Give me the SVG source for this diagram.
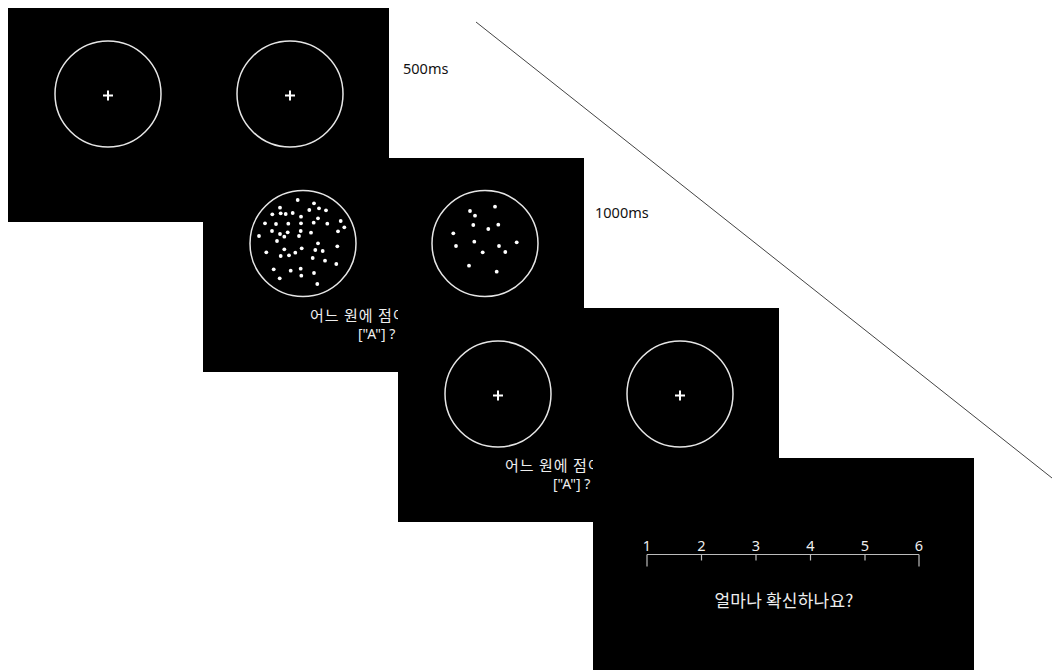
<svg xmlns="http://www.w3.org/2000/svg" width="1053" height="670" viewBox="0 0 1053 670">
<style>
.bg{fill:#000}
.ring{fill:none;stroke:#e6e6e6;stroke-width:1.5}
.cross{stroke:#fff;stroke-width:2;fill:none}
.dot{fill:#fff}
.kr{font-family:"Noto Sans CJK KR","Noto Sans",sans-serif;font-size:15px;letter-spacing:1px;fill:#eee}
.q{font-family:"Noto Sans","Noto Sans CJK KR",sans-serif;font-size:14px;fill:#eee}
.lbl{font-family:"Noto Sans","Noto Sans CJK KR",sans-serif;font-size:14.5px;fill:#111}
.num{font-family:"Noto Sans","Noto Sans CJK KR",sans-serif;font-size:14.5px;fill:#eee;text-anchor:middle}
.scale{stroke:#bbb;stroke-width:1.2;fill:none}
</style>
<rect width="1053" height="670" fill="#fff"/>
<g id="connectors">
<line x1="476" y1="22" x2="1052" y2="478" stroke="#444" stroke-width="1"/>
</g>
<g id="panel1">
<rect class="bg" x="8" y="8" width="381" height="214"/>
<circle class="ring" cx="108" cy="94" r="53"/>
<circle class="ring" cx="290" cy="94" r="53"/>
<path class="cross" d="M103 95.5h10M108 90.5v10M285 95.5h10M290 90.5v10"/>
</g>
<g id="label500">
<text class="lbl" x="403" y="74">500ms</text>
</g>
<g id="panel2">
<rect class="bg" x="203" y="158" width="381" height="214"/>
<circle class="ring" cx="303" cy="243.5" r="53"/>
<circle class="ring" cx="485" cy="243.5" r="53"/>
<g class="dot">
<circle cx="297.7" cy="200" r="1.9"/><circle cx="314" cy="203.3" r="1.9"/><circle cx="280" cy="207.7" r="1.9"/><circle cx="309.3" cy="210" r="1.9"/><circle cx="319" cy="208.3" r="1.9"/><circle cx="326" cy="210.3" r="1.9"/><circle cx="272.3" cy="214.3" r="1.9"/><circle cx="280.7" cy="213.3" r="1.9"/><circle cx="285.7" cy="214" r="1.9"/><circle cx="292.7" cy="213" r="1.9"/><circle cx="301" cy="216.7" r="1.9"/><circle cx="318" cy="218.3" r="1.9"/><circle cx="265" cy="223.3" r="1.9"/><circle cx="276" cy="224" r="1.9"/><circle cx="288.3" cy="223.7" r="1.9"/><circle cx="301" cy="223.3" r="1.9"/><circle cx="313.7" cy="222.7" r="1.9"/><circle cx="327.3" cy="223.7" r="1.9"/><circle cx="340.7" cy="221" r="1.9"/><circle cx="344.3" cy="227.3" r="1.9"/><circle cx="272" cy="231" r="1.9"/><circle cx="280" cy="234" r="1.9"/><circle cx="287.7" cy="232.3" r="1.9"/><circle cx="300.7" cy="231" r="1.9"/><circle cx="311" cy="232.7" r="1.9"/><circle cx="338" cy="231.3" r="1.9"/><circle cx="259" cy="236" r="1.9"/><circle cx="284.3" cy="236.7" r="1.9"/><circle cx="299" cy="236" r="1.9"/><circle cx="277" cy="241" r="1.9"/><circle cx="318" cy="243.3" r="1.9"/><circle cx="301.7" cy="248.3" r="1.9"/><circle cx="284.3" cy="249.3" r="1.9"/><circle cx="315.3" cy="250" r="1.9"/><circle cx="322.7" cy="251" r="1.9"/><circle cx="337.3" cy="246.3" r="1.9"/><circle cx="266.3" cy="252.3" r="1.9"/><circle cx="280.7" cy="256" r="1.9"/><circle cx="289" cy="255.3" r="1.9"/><circle cx="295.3" cy="252.7" r="1.9"/><circle cx="312.7" cy="258" r="1.9"/><circle cx="325" cy="260.7" r="1.9"/><circle cx="336.3" cy="264" r="1.9"/><circle cx="273.7" cy="269.3" r="1.9"/><circle cx="290.7" cy="270.7" r="1.9"/><circle cx="300.7" cy="268.7" r="1.9"/><circle cx="314" cy="273" r="1.9"/><circle cx="301.3" cy="275.7" r="1.9"/><circle cx="279.7" cy="278.3" r="1.9"/><circle cx="317.3" cy="284" r="1.9"/>
<circle cx="470" cy="211" r="1.9"/><circle cx="495" cy="206.7" r="1.9"/><circle cx="475" cy="215.7" r="1.9"/><circle cx="473.3" cy="225" r="1.9"/><circle cx="498.3" cy="224.7" r="1.9"/><circle cx="488.3" cy="229" r="1.9"/><circle cx="453.3" cy="233.3" r="1.9"/><circle cx="474.3" cy="241.7" r="1.9"/><circle cx="516.7" cy="242.3" r="1.9"/><circle cx="456" cy="246" r="1.9"/><circle cx="499" cy="246" r="1.9"/><circle cx="482.7" cy="252.3" r="1.9"/><circle cx="505.3" cy="252" r="1.9"/><circle cx="469" cy="265.7" r="1.9"/><circle cx="496.7" cy="271.7" r="1.9"/>
</g>
<text class="kr" x="310" y="321">어느 원에 점이</text>
<text class="q" x="358" y="339">["A"] ?</text>
</g>
<g id="label1000">
<text class="lbl" x="595" y="218">1000ms</text>
</g>
<g id="panel3">
<rect class="bg" x="398" y="308" width="381" height="214"/>
<circle class="ring" cx="498" cy="394" r="53"/>
<circle class="ring" cx="680" cy="394" r="53"/>
<path class="cross" d="M493 395.5h10M498 390.5v10M675 395.5h10M680 390.5v10"/>
<text class="kr" x="505" y="471">어느 원에 점이</text>
<text class="q" x="553" y="489">["A"] ?</text>
</g>
<g id="panel4">
<rect class="bg" x="593" y="458" width="381" height="212"/>
<path class="scale" d="M647 554.5h272M647 554.5v12M919 554.5v12M701.5 554.5v6M756 554.5v6M810.5 554.5v6M865 554.5v6"/>
<text class="num" x="647" y="551">1</text>
<text class="num" x="701.5" y="551">2</text>
<text class="num" x="756" y="551">3</text>
<text class="num" x="810.5" y="551">4</text>
<text class="num" x="865" y="551">5</text>
<text class="num" x="919" y="551">6</text>
<text class="kr" x="784" y="607" text-anchor="middle" style="font-size:17px;letter-spacing:0.2px">얼마나 확신하나요?</text>
</g>
</svg>
